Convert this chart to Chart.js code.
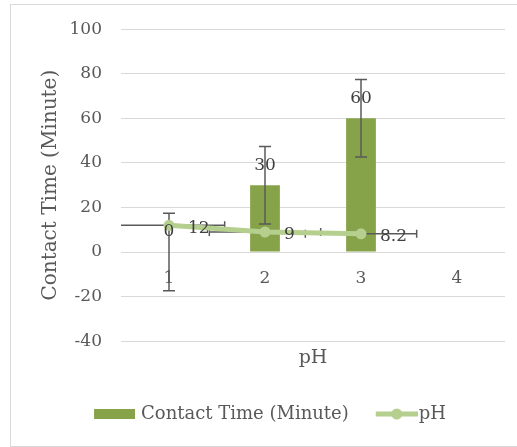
<!DOCTYPE html>
<html><head><meta charset="utf-8">
<script src="https://cdn.jsdelivr.net/npm/chart.js@4.4.0/dist/chart.umd.min.js"></script>
<style>html,body{margin:0;padding:0;background:#fff;} #wrap{position:relative;width:517px;height:447px;}</style>
</head><body><div id="wrap"><canvas id="c"></canvas></div>
<script>
// ---- data ----
const categories = ['1', '2', '3', '4'];
const contactTime = [0, 30, 60, null];
const contactTimeError = [17.4, 17.4, 17.4, null];
const phValues = [12, 9, 8.2, null];
const phErrorX = [0.58, 0.58, 0.58, null];
const yTicks = [-40, -20, 0, 20, 40, 60, 80, 100];
const seriesNames = ['Contact Time (Minute)', 'pH'];
const xTitle = 'pH';
const yTitle = 'Contact Time (Minute)';

// ---- style ----
const barColor = '#86A34A';
const lineColor = '#B5CF8F';
const errColor = '#5A5A5A';
const tickColor = '#595959';
const labelColor = '#404040';
const FONT = 'DejaVu Serif';
Chart.defaults.font.family = FONT;

function makeSwatch(kind) {
  const cv = document.createElement('canvas');
  if (kind === 'bar') {
    cv.width = 44; cv.height = 10;
    const g = cv.getContext('2d');
    g.fillStyle = barColor; g.fillRect(3, 0, 41, 10);
  } else {
    cv.width = 54; cv.height = 12;
    const g = cv.getContext('2d');
    g.strokeStyle = lineColor; g.lineWidth = 5;
    g.beginPath(); g.moveTo(12, 6); g.lineTo(54, 6); g.stroke();
    g.fillStyle = lineColor; g.beginPath(); g.arc(33, 6, 5.5, 0, Math.PI * 2); g.fill();
  }
  return cv;
}
const swatches = [makeSwatch('bar'), makeSwatch('line')];

const framePlugin = {
  id: 'frame',
  beforeDraw(chart) {
    const c = chart.ctx;
    c.save();
    c.fillStyle = '#fff'; c.fillRect(0, 0, chart.width, chart.height);
    c.strokeStyle = '#D9D9D9'; c.lineWidth = 1;
    c.strokeRect(10.5, 4.5, chart.width, chart.height - 5);
    c.restore();
  }
};

const errorBarPlugin = {
  id: 'errorBars',
  afterDatasetDraw(chart, args) {
    if (args.index !== 0) return;
    const c = chart.ctx, x = chart.scales.x, y = chart.scales.y, a = chart.chartArea;
    c.save();
    c.beginPath(); c.rect(a.left, a.top, a.right - a.left, a.bottom - a.top); c.clip();
    c.strokeStyle = errColor; c.lineWidth = 1.5;
    contactTime.forEach((v, i) => {
      if (v == null || contactTimeError[i] == null) return;
      const px = x.getPixelForValue(i);
      const y1 = y.getPixelForValue(v + contactTimeError[i]);
      const y2 = y.getPixelForValue(v - contactTimeError[i]);
      c.beginPath();
      c.moveTo(px, y1); c.lineTo(px, y2);
      c.moveTo(px - 6, y1); c.lineTo(px + 6, y1);
      c.moveTo(px - 6, y2); c.lineTo(px + 6, y2);
      c.stroke();
    });
    phValues.forEach((v, i) => {
      if (v == null || phErrorX[i] == null) return;
      const py = y.getPixelForValue(v);
      const x1 = x.getPixelForValue(i - phErrorX[i]);
      const x2 = x.getPixelForValue(i + phErrorX[i]);
      c.beginPath();
      c.moveTo(x1, py); c.lineTo(x2, py);
      c.moveTo(x1, py - 4); c.lineTo(x1, py + 4);
      c.moveTo(x2, py - 4); c.lineTo(x2, py + 4);
      c.stroke();
    });
    c.restore();
  }
};

const dataLabelPlugin = {
  id: 'dataLabels',
  afterDatasetsDraw(chart) {
    const c = chart.ctx, y = chart.scales.y;
    c.save();
    c.fillStyle = labelColor;
    c.font = '17px "' + FONT + '"';
    chart.getDatasetMeta(0).data.forEach((el, i) => {
      const v = contactTime[i];
      if (v == null) return;
      c.textAlign = 'center'; c.textBaseline = 'middle';
      c.fillText(String(v), el.x, y.getPixelForValue(v) - 20);
    });
    chart.getDatasetMeta(1).data.forEach((el, i) => {
      const v = phValues[i];
      if (v == null) return;
      c.textAlign = 'left'; c.textBaseline = 'middle';
      c.fillText(String(v), el.x + 19, el.y + 3);
    });
    c.restore();
  }
};

new Chart(document.getElementById('c'), {
  type: 'bar',
  data: {
    labels: categories,
    datasets: [
      {
        type: 'bar', label: seriesNames[0], data: contactTime,
        backgroundColor: barColor, borderWidth: 0,
        barPercentage: 0.31, categoryPercentage: 1, order: 2,
        xAxisID: 'x', yAxisID: 'y'
      },
      {
        type: 'line', label: seriesNames[1], data: phValues,
        borderColor: lineColor, backgroundColor: lineColor, borderWidth: 5,
        pointRadius: 5.5, pointBackgroundColor: lineColor, pointBorderWidth: 0,
        pointHoverRadius: 5.5, tension: 0, order: 1,
        xAxisID: 'x', yAxisID: 'y'
      }
    ]
  },
  options: {
    responsive: true, maintainAspectRatio: false, animation: false,
    layout: { padding: { left: 35, right: 12, top: 29, bottom: 14 } },
    plugins: {
      tooltip: { enabled: false },
      legend: {
        position: 'bottom',
        labels: {
          usePointStyle: true, pointStyleWidth: 38, boxHeight: 10, padding: 23,
          color: tickColor, font: { family: FONT, size: 18 },
          sort: (a, b) => a.datasetIndex - b.datasetIndex,
          generateLabels(chart) {
            const items = Chart.defaults.plugins.legend.labels.generateLabels(chart);
            items.forEach(it => { it.pointStyle = swatches[it.datasetIndex]; });
            return items;
          }
        }
      }
    },
    scales: {
      x: {
        type: 'category', position: { y: 0 }, offset: true,
        grid: { display: false, drawTicks: false }, border: { display: false },
        ticks: { padding: 16, color: tickColor, font: { family: FONT, size: 17 } }
      },
      x2: {
        type: 'category', axis: 'x', position: 'bottom', offset: true,
        grid: { display: false, drawTicks: false }, border: { display: false },
        ticks: { display: false },
        title: { display: true, text: xTitle, color: tickColor, font: { family: FONT, size: 19 }, padding: { top: 5, bottom: 13 } }
      },
      y: {
        type: 'linear', min: yTicks[0], max: yTicks[yTicks.length - 1],
        afterBuildTicks(s) { s.ticks = yTicks.map(v => ({ value: v })); },
        afterFit(s) { s.width = 86; },
        grid: { color: '#D9D9D9', lineWidth: 1, drawTicks: false }, border: { display: false },
        ticks: { padding: 19, color: tickColor, font: { family: FONT, size: 17 } },
        title: { display: true, text: yTitle, color: tickColor, font: { family: FONT, size: 20 }, padding: { top: 4, bottom: 4 } }
      }
    }
  },
  plugins: [framePlugin, errorBarPlugin, dataLabelPlugin]
});
</script></body></html>
